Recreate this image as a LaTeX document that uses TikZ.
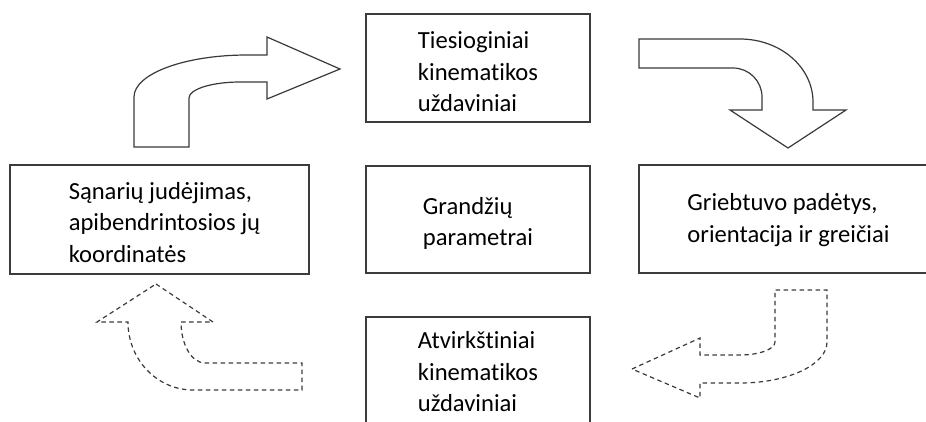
\documentclass[tikz,border=0pt]{standalone}
\usepackage{fontspec}
\setmainfont{Carlito}[Ligatures={NoCommon}]
\begin{document}
\begin{tikzpicture}[x=1pt,y=-1pt,
  box/.style={draw=boxgrey, line width=1.4pt, fill=white, inner sep=0pt},
  boxtext/.style={align=left, inner sep=0pt, font=\fontsize{24.6}{31.5}\selectfont},
  solidarrow/.style={draw=arrowgrey, line width=1.2pt, fill=white, line join=miter},
  dashedarrow/.style={draw=arrowgrey, line width=1.2pt, dash pattern=on 4.5pt off 3.5pt}]
\definecolor{boxgrey}{HTML}{3C3C3C}
\definecolor{arrowgrey}{HTML}{3A3A3A}
\useasboundingbox (0,0) rectangle (926,421);
\clip (0,0) rectangle (926,421);

% the five boxes
\node[box, minimum width=224pt, minimum height=108pt] (direct) at (478,68) {};
\node[box, minimum width=224pt, minimum height=107pt] (params) at (478,219.5) {};
\node[box, minimum width=224pt, minimum height=108pt] (inverse) at (478,371) {};
\node[box, minimum width=299pt, minimum height=109pt] (joints) at (159.5,219.5) {};
\node[box, minimum width=299pt, minimum height=108pt] (gripper) at (788.5,219) {};

% their texts, set a little below each centre
\node[boxtext] (direct-text) at ([yshift=-4pt]direct.center)
  {Tiesioginiai\\kinematikos\\uždaviniai};
\node[boxtext] (params-text) at ([yshift=-4pt]params.center)
  {Grandžių\\parametrai};
\node[boxtext] (inverse-text) at ([yshift=-1pt]inverse.center)
  {Atvirkštiniai\\kinematikos\\uždaviniai};
\node[boxtext] (joints-text) at ([xshift=5pt,yshift=-3pt]joints.center)
  {Sąnarių judėjimas,\\apibendrintosios jų\\koordinatės};
\node[boxtext] (gripper-text) at ([yshift=-1pt]gripper.center)
  {Griebtuvo padėtys,\\orientacija ir greičiai};

% solid bent arrow: joints -> direct problem
\draw[solidarrow] (134,147) -- (134,97)
  .. controls (134,73.8) and (184.6,55) .. (247,55)
  -- (267,55) -- (267,37) -- (340,69) -- (267,99) -- (267,82) -- (240,82)
  .. controls (211.8,82) and (189,89.2) .. (189,98)
  -- (189,147) -- cycle;

% solid bent arrow: direct problem -> gripper
\draw[solidarrow] (639,39) -- (740,39)
  .. controls (780.3,39) and (813,67.2) .. (813,102)
  -- (813,110) -- (846,110) -- (788,148) -- (730,110) -- (762,110) -- (762,97)
  .. controls (762,81) and (749,68) .. (733,68)
  -- (639,68) -- cycle;

% dashed bent arrow: gripper -> inverse problem
\draw[dashedarrow] (632,369) -- (700,338) -- (700,355) -- (740,355)
  .. controls (759.3,355) and (775,349.2) .. (775,342)
  -- (775,290) -- (827,290) -- (827,342)
  .. controls (827,364.6) and (788,383) .. (740,383)
  -- (700,383) -- (700,398) -- cycle;

% dashed bent arrow: inverse problem -> joints
\draw[dashedarrow] (156,284) -- (213,322) -- (181,322)
  .. controls (181,344.6) and (191.7,363) .. (205,363)
  -- (302,363) -- (302,390) -- (193,390)
  .. controls (157.1,390) and (128,359.6) .. (128,322)
  -- (97,322) -- cycle;
\end{tikzpicture}
\end{document}
